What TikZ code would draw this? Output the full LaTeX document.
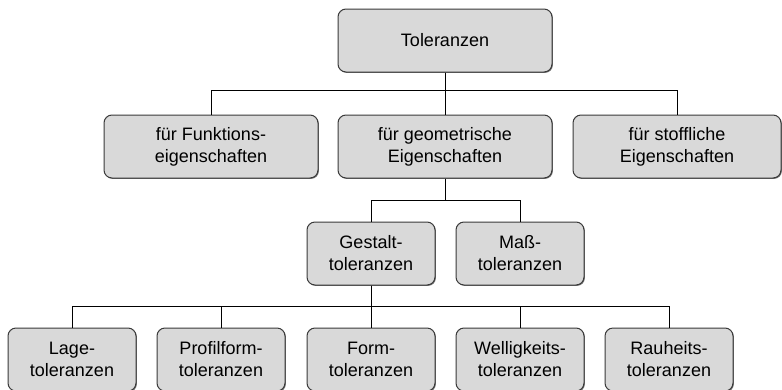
\documentclass[tikz,border=0pt]{standalone}
\usepackage{fontspec}
\setmainfont{Liberation Sans}
\usetikzlibrary{shadows}
\definecolor{boxfill}{HTML}{D9D9D9}
\definecolor{boxline}{HTML}{3A3A3A}
\tikzset{
  box/.style={draw=boxline, line width=1pt, fill=boxfill, rounded corners=8pt,
    align=center, inner sep=0pt, anchor=center,
    font=\fontsize{18}{22}\selectfont,
    drop shadow={shadow xshift=0.9pt, shadow yshift=-0.9pt, fill=black!55, opacity=1}},
  wide/.style={box, minimum width=214pt, minimum height=63pt},
  narrow/.style={box, minimum width=128pt, minimum height=63pt},
  link/.style={draw=black, line width=0.9pt}
}
\begin{document}
\begin{tikzpicture}[x=1pt, y=-1pt]
  \useasboundingbox (0,0) rectangle (782,389);

  % top level
  \node[wide] (tol) at (445,40.5) {Toleranzen};

  % second level
  \node[wide] (funk) at (211,146.5) {für Funktions-\\eigenschaften};
  \node[wide] (geo)  at (445,146.5) {für geometrische\\Eigenschaften};
  \node[box, minimum width=208pt, minimum height=63pt] (stoff) at (677,146.5) {für stoffliche\\Eigenschaften};

  % third level
  \node[narrow] (gest) at (371,253.5) {Gestalt-\\toleranzen};
  \node[narrow] (mass) at (520,253.5) {Maß-\\toleranzen};

  % fourth level
  \node[narrow] (lage)  at (72,359.5)  {Lage-\\toleranzen};
  \node[narrow] (prof)  at (221,359.5) {Profilform-\\toleranzen};
  \node[narrow] (form)  at (371,359.5) {Form-\\toleranzen};
  \node[narrow] (well)  at (520,359.5) {Welligkeits-\\toleranzen};
  \node[narrow] (rauh)  at (669,359.5) {Rauheits-\\toleranzen};

  % connectors
  \draw[link] (tol.south) -- ++(0,18) -| (funk.north);
  \draw[link] (tol.south) -- ++(0,18) -| (stoff.north);
  \draw[link] (tol.south) -- (geo.north);

  \draw[link] (geo.south) -- ++(0,22) -| (gest.north);
  \draw[link] (geo.south) -- ++(0,22) -| (mass.north);

  \draw[link] (gest.south) -- ++(0,21) -| (lage.north);
  \draw[link] (gest.south) -- ++(0,21) -| (prof.north);
  \draw[link] (gest.south) -- ++(0,21) -| (well.north);
  \draw[link] (gest.south) -- ++(0,21) -| (rauh.north);
  \draw[link] (gest.south) -- (form.north);
\end{tikzpicture}
\end{document}
